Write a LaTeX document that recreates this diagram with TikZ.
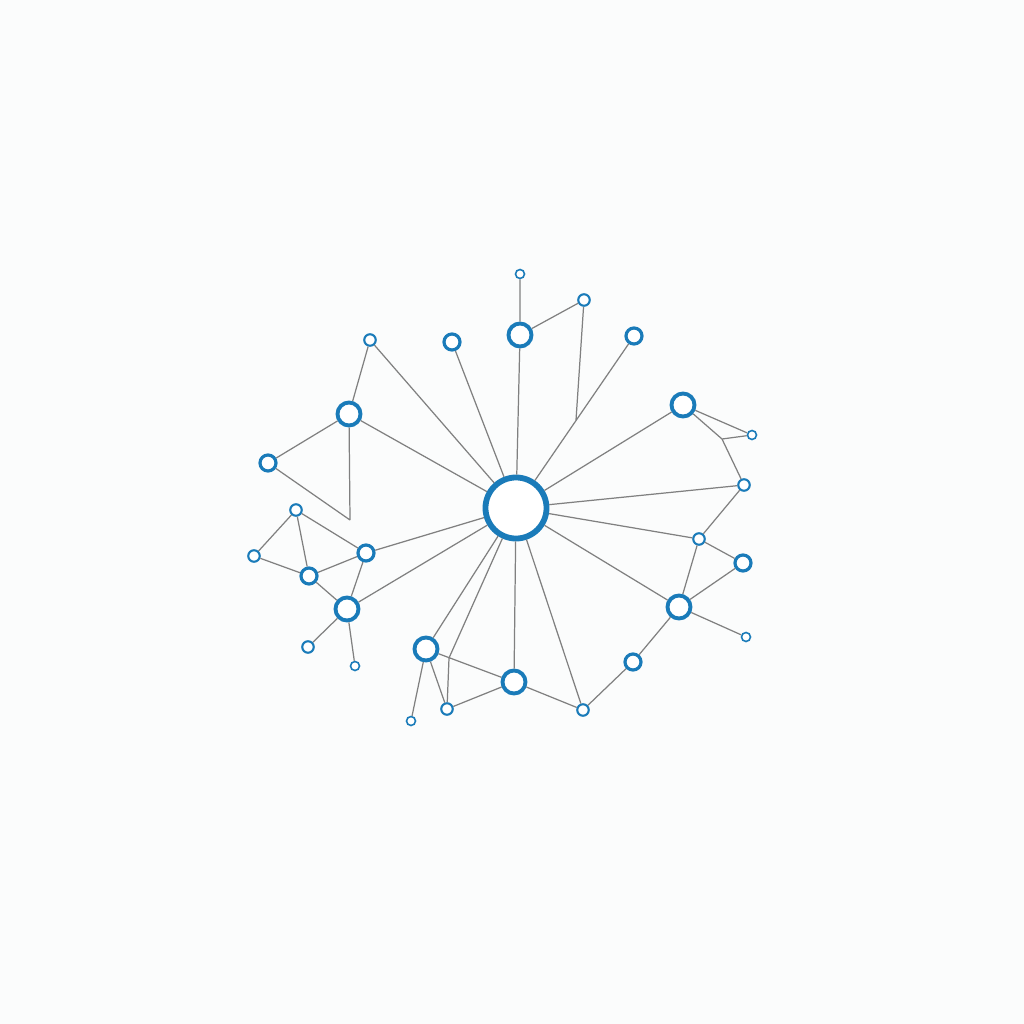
\documentclass[tikz,border=0pt]{standalone}
\definecolor{nodeblue}{HTML}{1A7BB9}
\definecolor{edgegray}{HTML}{808080}
\definecolor{bg}{HTML}{FBFCFC}
\begin{document}
\begin{tikzpicture}[x=0.01cm,y=-0.01cm,
  nd/.style={circle,draw=nodeblue,fill=white,inner sep=0pt},
  hub/.style={nd,line width=1.65pt,minimum size=0.61cm},
  big/.style={nd,line width=1.1pt,minimum size=0.23cm},
  mid/.style={nd,line width=0.9pt,minimum size=0.16cm},
  sml/.style={nd,line width=0.6pt,minimum size=0.115cm},
  tny/.style={nd,line width=0.45pt,minimum size=0.09cm},
  ed/.style={draw=edgegray,line width=0.35pt}]
\fill[bg] (0,0) rectangle (1024,1024);
\useasboundingbox (0,0) rectangle (1024,1024);
% nodes
\node[hub] (C) at (516,508) {};
\node[tny] (T1) at (520,274) {};
\node[big] (T2) at (520,335) {};
\node[sml] (T3) at (584,300) {};
\node[mid] (T4) at (634,336) {};
\node[mid] (L1) at (452,342) {};
\node[sml] (L2) at (370,340) {};
\node[big] (L3) at (349,414) {};
\node[mid] (L4) at (268,463) {};
\node[sml] (L5) at (296,510) {};
\node[sml] (L6) at (254,556) {};
\node[mid] (L7) at (309,576) {};
\node[mid] (L8) at (366,553) {};
\node[big] (L9) at (347,609) {};
\node[sml] (L10) at (308,647) {};
\node[tny] (L11) at (355,666) {};
\node[big] (B1) at (426,649) {};
\node[tny] (B2) at (411,721) {};
\node[sml] (B3) at (447,709) {};
\node[big] (B4) at (514,682) {};
\node[sml] (B5) at (583,710) {};
\node[mid] (B6) at (633,662) {};
\node[big] (R1) at (679,607) {};
\node[tny] (R2) at (746,637) {};
\node[mid] (R3) at (743,563) {};
\node[sml] (R4) at (699,539) {};
\node[sml] (R5) at (744,485) {};
\node[big] (R6) at (683,405) {};
\node[tny] (R7) at (752,435) {};
\coordinate (J1) at (576,420);
\coordinate (J2) at (449,658);
\coordinate (J3) at (722,439);
\coordinate (J4) at (350,520);
% edges
\path[ed] (C) -- (T2) (T2) -- (T1) (T2) -- (T3) (T3) -- (J1)
  (C) -- (T4) (C) -- (L1) (C) -- (L2) (C) -- (L3)
  (L3) -- (L2) (L3) -- (L4) (L3) -- (J4) (L4) -- (J4)
  (L5) -- (L8) (L5) -- (L6) (L5) -- (L7) (L6) -- (L7)
  (L7) -- (L8) (L7) -- (L9) (L8) -- (L9) (L8) -- (C) (L9) -- (C)
  (L9) -- (L10) (L9) -- (L11)
  (C) -- (B1) (C) -- (J2) -- (B3) (B1) -- (B2) (B1) -- (B3)
  (B1) -- (B4) (B3) -- (B4) (C) -- (B4) (C) -- (B5) (B4) -- (B5)
  (B5) -- (B6) (B6) -- (R1) (C) -- (R1) (R1) -- (R2) (R1) -- (R3)
  (R1) -- (R4) (C) -- (R4) (R4) -- (R5) (R4) -- (R3)
  (C) -- (R5) (C) -- (R6) (R6) -- (J3) (J3) -- (R7) (R6) -- (R7) (J3) -- (R5);
\end{tikzpicture}
\end{document}
